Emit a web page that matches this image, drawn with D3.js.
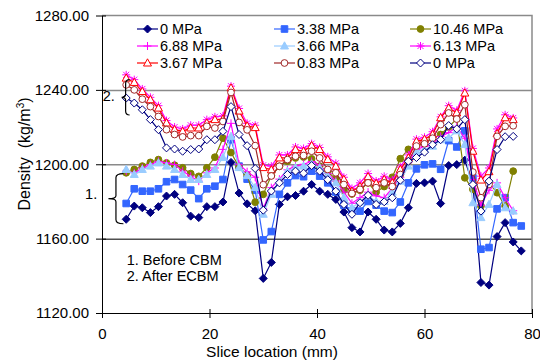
<!DOCTYPE html>
<html>
<head>
<meta charset="utf-8">
<script src="https://cdn.jsdelivr.net/npm/d3@7"></script>
<style>
    body { margin: 0; background: #fff; }
    svg { font-family: 'Liberation Sans', Arial, sans-serif; }
</style>
</head>
<body>
<svg width="540" height="362"></svg>
<script>
// slice positions (mm)
let sliceLocation = [4.5, 6, 7.5, 9, 10.5, 12, 13.5, 15, 16.5, 18, 19.5, 21, 22.5, 24, 25.5, 27, 28.5, 30, 31.5, 33,
    34.5, 36, 37.5, 39, 40.5, 42, 43.5, 45, 46.5, 48, 49.5, 51, 52.5, 54, 55.5, 57, 58.5, 60, 61.5, 63,
    64.5, 66, 67.5, 69, 70.5, 72, 73.5, 75, 76.5, 78];

// before CBM
let before0 = [1170.4, 1177.5, 1176.6, 1174.0, 1177.2, 1182.9, 1183.8, 1179.3, 1172.1, 1171.3,
    1177.2, 1177.2, 1179.7, 1201, 1184.5, 1178.7, 1175, 1138.6, 1147.2, 1178.4,
    1182.5, 1183.2, 1185.5, 1189.1, 1185.5, 1183.8, 1181.1, 1174.3, 1165.9, 1163.6,
    1174.3, 1170.4, 1164.6, 1163.6, 1168.2, 1176.6, 1189.7, 1190.0, 1190.9, 1178.9,
    1199.3, 1199.8, 1202.2, 1189.1, 1136.4, 1135.0, 1161.1, 1168.6, 1158.2, 1153.4];
let p338 = [1178.9, 1186.8, 1185.5, 1185.5, 1186.8, 1190.6, 1191.8, 1189.1, 1186.1, 1181.5,
    1186.8, 1188.2, 1191.8, 1213.2, 1199, 1192, 1186, 1159.3, 1163.8, 1183.8,
    1190.0, 1193.9, 1193.3, 1196.3, 1193.6, 1190.0, 1185, 1178, 1175, 1174.8,
    1180, 1178, 1174.8, 1174.0, 1179.7, 1190.0, 1197.5, 1199.7, 1200.2, 1197.3,
    1212.7, 1209.3, 1218, 1192.7, 1154.3, 1155.2, 1176, 1182, 1168.6, 1166.8];
let p1046 = [1195.4, 1197.2, 1199, 1201, 1202.5, 1200.7, 1199.5, 1198.1, 1195, 1193.5,
    1198.1, 1203.8, 1214, 1206.3, 1198.5, 1194.3, 1179.6, 1183.8, 1193.9, 1198.9,
    1201.6, 1203.4, 1203.9, 1202.9, 1199, 1196, 1192, 1186, 1184, 1186,
    1190, 1185, 1188, 1193, 1203, 1208, 1210, 1212, 1214, 1216,
    1220, 1224.5, 1192.7, 1186.5, 1177.5, 1190, 1184.7, 1177.5, 1196.3];
let p688 = [1196.3, 1195.4, 1198, 1199.8, 1201.6, 1200.7, 1199.8, 1196.3, 1193.6, 1190.9,
    1195.4, 1198, 1208, 1222, 1200, 1196, 1193, 1176, 1187.4, 1192,
    1197, 1199, 1200, 1201.5, 1199.5, 1195, 1191, 1185, 1179, 1182,
    1185, 1183, 1182, 1187, 1193, 1201, 1208, 1209.5, 1211, 1215,
    1217, 1220, 1214, 1191.8, 1178, 1186, 1190, 1182, 1175];
let p366 = [1197.2, 1194.5, 1197.2, 1199, 1200.7, 1199, 1197.2, 1194.5, 1191.8, 1191.8,
    1194.5, 1197.2, 1203.6, 1215, 1198.2, 1193.9, 1187.5, 1173.1, 1183.8, 1190.9,
    1196.3, 1198.1, 1199, 1200.2, 1198, 1193.6, 1190, 1182, 1176.6, 1179.7,
    1182.9, 1180, 1180, 1185, 1190.9, 1199, 1207, 1207.9, 1209.7, 1213.2,
    1214.1, 1218, 1210.6, 1179.3, 1171.3, 1178.4, 1189.1, 1176.6, 1174.8];

// after ECBM
let p613 = [1248.1, 1245.5, 1240.5, 1236, 1231.5, 1223.5, 1220, 1219, 1221, 1221,
    1224, 1225.5, 1226, 1242, 1230, 1222, 1221, 1199.5, 1199, 1205,
    1205, 1209.3, 1208.5, 1211.1, 1209, 1204, 1200.5, 1193, 1187, 1190,
    1195, 1191, 1193.5, 1191.5, 1198.5, 1205, 1213.5, 1214.5, 1217.5, 1225.5,
    1231.5, 1229, 1239.5, 1208.5, 1193.6, 1198, 1219, 1226.6, 1224.9];
let p367 = [1246.3, 1244, 1239.1, 1234.7, 1230.2, 1222.2, 1218.6, 1217.7, 1219.5, 1219.5,
    1222.2, 1224, 1224.3, 1241, 1228.6, 1220.6, 1219.7, 1198.2, 1197, 1203.4,
    1203.4, 1207.9, 1207, 1210, 1207.9, 1202.5, 1198.9, 1191.8, 1185.5, 1188,
    1193.3, 1189.7, 1191.8, 1190, 1197.2, 1203.4, 1212.3, 1213.4, 1216, 1225,
    1230.2, 1227.6, 1238.3, 1207, 1191.5, 1196, 1216.5, 1225, 1224];
let p083 = [1242.7, 1240, 1235, 1231, 1225.7, 1218.6, 1216, 1214.7, 1215.4, 1215.4,
    1220.4, 1219.5, 1223, 1238.6, 1222.5, 1218.5, 1210, 1189, 1193.7, 1198.9,
    1202.5, 1204.3, 1204.7, 1207, 1203.4, 1197.2, 1195.4, 1189.1, 1184.3, 1186.5,
    1190, 1187.4, 1190, 1188, 1194.5, 1201.6, 1209.8, 1211, 1214, 1221.3,
    1227.6, 1224.3, 1232, 1195.8, 1182, 1189.1, 1215, 1220.4, 1220.7];
let after0 = [1235.6, 1232.9, 1229.3, 1224, 1218.6, 1208.8, 1208.2, 1207, 1207.9, 1208.2,
    1213.2, 1213.2, 1217.7, 1231, 1216, 1210, 1197.7, 1175.3, 1185.6, 1190,
    1194.5, 1196.3, 1195.2, 1199.3, 1196.3, 1191.7, 1185.5, 1178.4, 1173.1, 1179.3,
    1183.3, 1178.4, 1179.8, 1182, 1191.4, 1201.6, 1203.6, 1206.5, 1210.5, 1213.2,
    1220.8, 1219, 1224, 1189.1, 1174.8, 1190.9, 1207.9, 1214.8, 1215];

let seriesNames = ['0 MPa', '3.38 MPa', '10.46 MPa', '6.88 MPa', '3.66 MPa', '6.13 MPa', '3.67 MPa', '0.83 MPa', '0 MPa'];
let yTicks = [1120, 1160, 1200, 1240, 1280];
let xTicks = [0, 20, 40, 60, 80];

function main() {
    let svg = d3.select('svg'),
        margin = { top: 15.5, bottom: 49, left: 102, right: 8 },
        width = svg.attr('width') - margin.left - margin.right,
        height = svg.attr('height') - margin.top - margin.bottom;

    let xScale = d3.scaleLinear().domain([0, 80]).range([margin.left, margin.left + width]),
        yScale = d3.scaleLinear().domain([1120, 1280]).range([margin.top + height, margin.top]);

    let values = [before0, p338, p1046, p688, p366, p613, p367, p083, after0];
    let styles = [
        { color: '#000080', marker: 'diamond', open: false },
        { color: '#3366ff', marker: 'square', open: false },
        { color: '#808000', marker: 'circle', open: false },
        { color: '#ff00ff', marker: 'plus', open: false },
        { color: '#99ccff', marker: 'triangle', open: false },
        { color: '#ff00ff', marker: 'star', open: false },
        { color: '#ff0000', marker: 'triangle', open: true },
        { color: '#a02828', marker: 'circle', open: true },
        { color: '#000080', marker: 'diamond', open: true }
    ];
    let series = seriesNames.map((name, i) => ({
        name: name,
        points: values[i].map((v, j) => ({ x: sliceLocation[j], y: v })),
        style: styles[i]
    }));

    function markerPath(type) {
        switch (type) {
            case 'diamond': return 'M0,-4L4,0L0,4L-4,0Z';
            case 'square': return 'M-3.3,-3.3H3.3V3.3H-3.3Z';
            case 'circle': return d3.symbol(d3.symbolCircle, 36)();
            case 'triangle': return 'M0,-4.2L4,3L-4,3Z';
            case 'plus': return 'M-4,0H4M0,-4V4';
            case 'star': return 'M-4,0H4M0,-4V4M-3,-3L3,3M-3,3L3,-3';
        }
    }
    function markerFill(s) {
        if (s.marker === 'plus' || s.marker === 'star') return 'none';
        return s.open ? '#fff' : s.color;
    }

    //Grid lines
    svg.append('g')
        .attr('transform', 'translate(' + margin.left + ',0)')
        .call(d3.axisLeft(yScale).tickValues(yTicks.slice(1, 4)).tickSize(-width).tickFormat(''))
        .call(g => g.select('.domain').remove())
        .selectAll('.tick line')
        .attr('stroke', (d) => d === 1160 ? '#505050' : '#8a8a8a')
        .attr('stroke-width', 1.5);

    //Frame top / right
    svg.append('path')
        .attr('d', 'M' + margin.left + ',' + yScale(1280) + 'H' + xScale(80) + 'V' + yScale(1120))
        .attr('fill', 'none')
        .attr('stroke', '#8a8a8a')
        .attr('stroke-width', 1.5);

    //Series
    let line = d3.line().x((d) => xScale(d.x)).y((d) => yScale(d.y));
    let groups = svg.selectAll('.series')
        .data(series)
        .enter()
        .append('g')
        .attr('class', 'series');
    groups.append('path')
        .attr('d', (d) => line(d.points))
        .attr('fill', 'none')
        .attr('stroke', (d) => d.style.color)
        .attr('stroke-width', 1.2);
    groups.each(function (s) {
        d3.select(this)
            .selectAll('path.mk')
            .data(s.points)
            .enter()
            .append('path')
            .attr('class', 'mk')
            .attr('transform', (d) => 'translate(' + xScale(d.x) + ',' + yScale(d.y) + ')')
            .attr('d', markerPath(s.style.marker))
            .attr('fill', markerFill(s.style))
            .attr('stroke', s.style.color)
            .attr('stroke-width', 1);
    });

    //X Axis
    let xAxis = svg.append('g')
        .attr('transform', 'translate(0,' + yScale(1120) + ')')
        .call(d3.axisBottom(xScale).tickValues(xTicks).tickSize(5).tickSizeOuter(0).tickPadding(10));
    xAxis.selectAll('.tick line').attr('y1', -4);
    xAxis.selectAll('text').style('font-size', '15px').attr('fill', '#000');
    xAxis.select('.domain').attr('stroke', '#000');
    svg.append('text')
        .attr('text-anchor', 'middle')
        .attr('x', 272)
        .attr('y', 357)
        .style('font-size', '15.5px')
        .text('Slice location (mm)');

    //Y Axis
    let yAxis = svg.append('g')
        .attr('transform', 'translate(' + margin.left + ',0)')
        .call(d3.axisLeft(yScale).tickValues(yTicks).tickSize(6).tickSizeOuter(0).tickPadding(7).tickFormat(d3.format('.2f')));
    yAxis.selectAll('.tick line').attr('x1', 4);
    yAxis.selectAll('text').style('font-size', '15px').attr('fill', '#000');
    yAxis.select('.domain').attr('stroke', '#000');
    let yTitle = svg.append('text')
        .attr('text-anchor', 'middle')
        .attr('transform', 'translate(30,154) rotate(-90)')
        .style('font-size', '16px');
    yTitle.append('tspan').text('Density\u00a0 (kg/m');
    yTitle.append('tspan').attr('dy', -6).style('font-size', '10px').text('3');
    yTitle.append('tspan').attr('dy', 6).text(')');

    //Legend
    let legendCols = [137, 274, 410],
        legendRows = [29, 46, 63];
    let legend = svg.selectAll('.legend')
        .data(series)
        .enter()
        .append('g')
        .attr('class', 'legend')
        .attr('transform', (d, i) => 'translate(' + legendCols[i % 3] + ',' + legendRows[Math.floor(i / 3)] + ')');
    legend.append('line')
        .attr('x1', 0).attr('x2', 21)
        .attr('stroke', (d) => d.style.color)
        .attr('stroke-width', 1.2);
    legend.append('path')
        .attr('transform', 'translate(10.5,0)')
        .attr('d', (d) => markerPath(d.style.marker))
        .attr('fill', (d) => markerFill(d.style))
        .attr('stroke', (d) => d.style.color);
    legend.append('text')
        .attr('x', 23)
        .attr('dy', '0.36em')
        .style('font-size', '14.5px')
        .text((d) => d.name);

    //Annotations
    function brace(x, y0, y1, w) {
        let m = (y0 + y1) / 2;
        return 'M' + (x + w) + ',' + y0 +
            'Q' + (x + w / 2) + ',' + y0 + ' ' + (x + w / 2) + ',' + (y0 + 4) +
            'V' + (m - 3) +
            'Q' + (x + w / 2) + ',' + m + ' ' + x + ',' + m +
            'Q' + (x + w / 2) + ',' + m + ' ' + (x + w / 2) + ',' + (m + 3) +
            'V' + (y1 - 4) +
            'Q' + (x + w / 2) + ',' + y1 + ' ' + (x + w) + ',' + y1;
    }
    svg.append('path')
        .attr('d', brace(xScale(3.65), yScale(1245.5), yScale(1226.5), 8))
        .attr('fill', 'none').attr('stroke', '#000').attr('stroke-width', 1.2);
    svg.append('path')
        .attr('d', brace(xScale(1.2), yScale(1195), yScale(1168), 15))
        .attr('fill', 'none').attr('stroke', '#000').attr('stroke-width', 1.2);
    svg.append('text').attr('x', xScale(2.4)).attr('y', yScale(1234)).attr('text-anchor', 'end')
        .style('font-size', '14.5px').text('2.');
    svg.append('text').attr('x', xScale(-0.9)).attr('y', yScale(1181.5)).attr('text-anchor', 'end')
        .style('font-size', '14.5px').text('1.');
    svg.append('text').attr('x', xScale(4.6)).attr('y', yScale(1146))
        .style('font-size', '14.5px').text('1. Before CBM');
    svg.append('text').attr('x', xScale(4.6)).attr('y', yScale(1137))
        .style('font-size', '14.5px').text('2. After ECBM');
}

main();
</script>
</body>
</html>
